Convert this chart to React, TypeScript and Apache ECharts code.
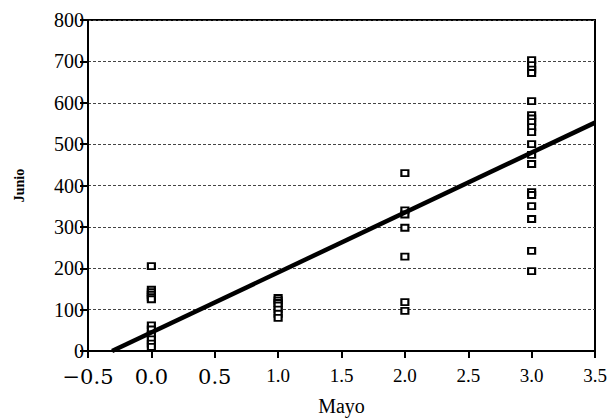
import React, { useEffect, useRef } from "react";
import * as echarts from "echarts";

const xTickLabels: Record<string, string> = {
  "-0.5": "−0.5", "0": "0.0", "0.5": "0.5", "1": "1.0", "1.5": "1.5",
  "2": "2.0", "2.5": "2.5", "3": "3.0", "3.5": "3.5",
};
const groupX = [0, 1, 2, 3];
const group0 = [205, 148, 142, 136, 130, 125, 62, 52, 40, 28, 18, 10];
const group1 = [128, 122, 116, 110, 100, 90, 80];
const group2 = [430, 340, 330, 298, 228, 118, 97];
const group3 = [703, 691, 680, 672, 604, 570, 562, 553, 541, 529, 500, 474, 452, 384, 377, 350, 319, 242, 193];
const fitX = [-0.31, 3.5];
const fitY = [0, 552];

const FONT = "Liberation Serif";

export default function App() {
  const ref = useRef<HTMLDivElement>(null);
  useEffect(() => {
    if (!ref.current) return;
    const chart = echarts.init(ref.current, null, { renderer: "svg" });
    const groups = [group0, group1, group2, group3];
    const pts: number[][] = [];
    groups.forEach((g, i) => g.forEach((v) => pts.push([groupX[i], v])));
    chart.setOption({
      animation: false,
      backgroundColor: "#ffffff",
      textStyle: { fontFamily: FONT },
      grid: {
        left: 88, right: 15, top: 20, bottom: 67, show: true, borderColor: "#000", borderWidth: 2,
        backgroundColor: "transparent", outerBoundsMode: "none", containLabel: false,
      },
      xAxis: {
        type: "value", min: -0.5, max: 3.5, interval: 0.5,
        name: "Mayo", nameLocation: "middle", nameGap: 45,
        nameTextStyle: { fontFamily: FONT, fontSize: 20, color: "#000" },
        axisLine: { show: true, onZero: false, lineStyle: { color: "#000", width: 2 } },
        axisTick: { show: true, length: 7, lineStyle: { color: "#000", width: 2 } },
        splitLine: { show: false },
        axisLabel: {
          margin: 15, color: "#000", fontFamily: FONT, fontSize: 19,
          formatter: (v: number) => {
            const s = xTickLabels[String(v)] ?? String(v);
            return v <= 0.5 ? "{big|" + s + "}" : "{sm|" + s + "}";
          },
          rich: {
            big: { fontFamily: "DejaVu Serif", fontSize: 21, color: "#000" },
            sm: { fontFamily: FONT, fontSize: 19, color: "#000" },
          },
        },
      },
      yAxis: {
        type: "value", min: 0, max: 800, interval: 100,
        name: "Junio", nameLocation: "middle", nameGap: 62, nameRotate: 90,
        nameTextStyle: { fontFamily: FONT, fontSize: 14, fontWeight: "bold", color: "#000" },
        axisLine: { show: true, onZero: false, lineStyle: { color: "#000", width: 2 } },
        axisTick: { show: true, length: 8, lineStyle: { color: "#000", width: 2 } },
        axisLabel: { margin: 4, color: "#000", fontFamily: FONT, fontSize: 20 },
        splitLine: { show: true, lineStyle: { color: "#444", type: [3, 2], width: 1 } },
      },
      series: [
        {
          type: "scatter", data: pts, symbol: "rect", symbolSize: [7, 6],
          itemStyle: { color: "#fff", borderColor: "#000", borderWidth: 2, opacity: 1 },
          z: 3,
        },
        {
          type: "line", data: fitX.map((x, i) => [x, fitY[i]]), symbol: "none",
          lineStyle: { color: "#000", width: 4.5 }, z: 4,
        },
      ],
    });
    return () => chart.dispose();
  }, []);
  return <div ref={ref} style={{ width: 610, height: 418, position: "absolute", left: 0, top: 0 }} />;
}
